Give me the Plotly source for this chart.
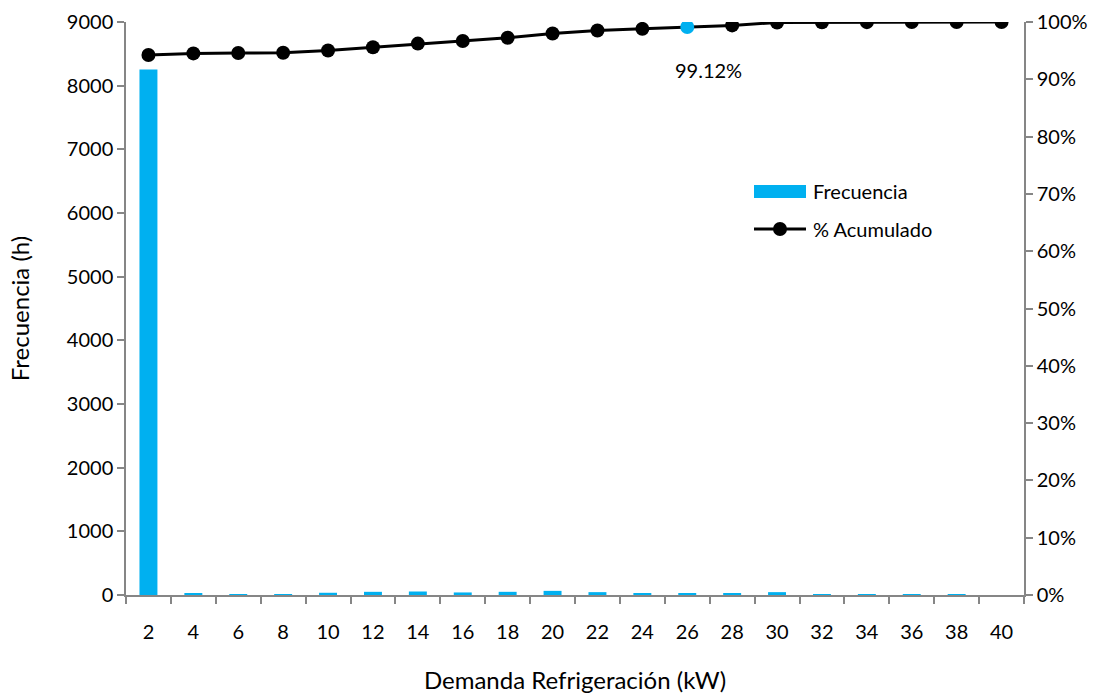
import plotly.graph_objects as go
import numpy as np

# Cooling demand bins (kW) and hours per bin
demanda_kw = ["2", "4", "6", "8", "10", "12", "14", "16", "18", "20",
              "22", "24", "26", "28", "30", "32", "34", "36", "38", "40"]
frecuencia_h = [8255, 25, 5, 5, 35, 50, 55, 40, 50, 65,
                45, 25, 28, 25, 45, 3, 2, 1, 1, 0]
etiqueta_idx = 12  # bin whose cumulative share is labelled

freq = np.array(frecuencia_h, dtype=float)
acumulado = np.cumsum(freq) / freq.sum()

BLUE = "#00B0F0"
AXIS = "#868686"
FONT = "Lato"
FS = 20

marker_colors = ["black"] * len(demanda_kw)
marker_colors[etiqueta_idx] = BLUE

fig = go.Figure()
fig.add_trace(go.Bar(
    x=demanda_kw, y=frecuencia_h, name="Frecuencia",
    marker=dict(color=BLUE, line=dict(width=0)),
    yaxis="y", showlegend=False,
))
fig.add_trace(go.Scatter(
    x=demanda_kw, y=acumulado, name="% Acumulado",
    mode="lines+markers", yaxis="y2",
    line=dict(color="black", width=3),
    marker=dict(size=14, color=marker_colors, line=dict(width=0)),
    showlegend=False,
))

# category axes take the position index for annotations
fig.add_annotation(
    x=etiqueta_idx, y=acumulado[etiqueta_idx], xref="x", yref="y2",
    text=f"{acumulado[etiqueta_idx] * 100:.2f}%", showarrow=False,
    xshift=21, yshift=-43, font=dict(family=FONT, size=FS, color="black"),
)

# Legend drawn in paper coordinates
L, T, W, H = 126, 22, 898, 573
def px(x):
    return (x - L) / W
def py(y):
    return (T + H - y) / H

fig.add_shape(type="rect", xref="paper", yref="paper",
              x0=px(754), x1=px(806), y0=py(198), y1=py(185),
              fillcolor=BLUE, line=dict(width=0))
fig.add_shape(type="line", xref="paper", yref="paper",
              x0=px(754), x1=px(806), y0=py(229), y1=py(229),
              line=dict(color="black", width=3))
fig.add_shape(type="circle", xref="paper", yref="paper",
              x0=px(773), x1=px(787), y0=py(236), y1=py(222),
              fillcolor="black", line=dict(width=0))
for label, y in [("Frecuencia", 191), ("% Acumulado", 229)]:
    fig.add_annotation(x=px(811), y=py(y), xref="paper", yref="paper",
                       text=label, showarrow=False, xanchor="left",
                       yanchor="middle",
                       font=dict(family=FONT, size=FS, color="black"))

fig.update_layout(
    width=1116, height=696,
    margin=dict(l=126, r=92, t=22, b=101),
    plot_bgcolor="white", paper_bgcolor="white",
    font=dict(family=FONT, size=FS, color="black"),
    bargap=0.6,
    xaxis=dict(
        type="category", range=[-0.5, len(demanda_kw) - 0.5],
        automargin=False,
        showgrid=False, showline=True, linecolor=AXIS, tickangle=0,
        linewidth=1.5, ticks="outside", tickson="boundaries", ticklen=7,
        tickcolor=AXIS, tickwidth=1.5, ticklabelstandoff=18,
        title=dict(text="Demanda Refrigeración (kW)", standoff=30),
    ),
    yaxis=dict(
        range=[0, 9000], dtick=1000, showgrid=False, zeroline=False,
        automargin=False,
        showline=True, linecolor=AXIS, linewidth=1.5, ticks="outside",
        ticklen=7, tickcolor=AXIS, tickwidth=1.5,
        title=dict(text="Frecuencia (h)", standoff=30),
    ),
    yaxis2=dict(
        range=[0, 1], dtick=0.1, tickformat=".0%", overlaying="y",
        automargin=False,
        side="right", showgrid=False, zeroline=False, showline=True,
        linecolor=AXIS, linewidth=1.5, ticks="outside", ticklen=7,
        tickcolor=AXIS, tickwidth=1.5,
    ),
)

fig.write_html("out.html")
